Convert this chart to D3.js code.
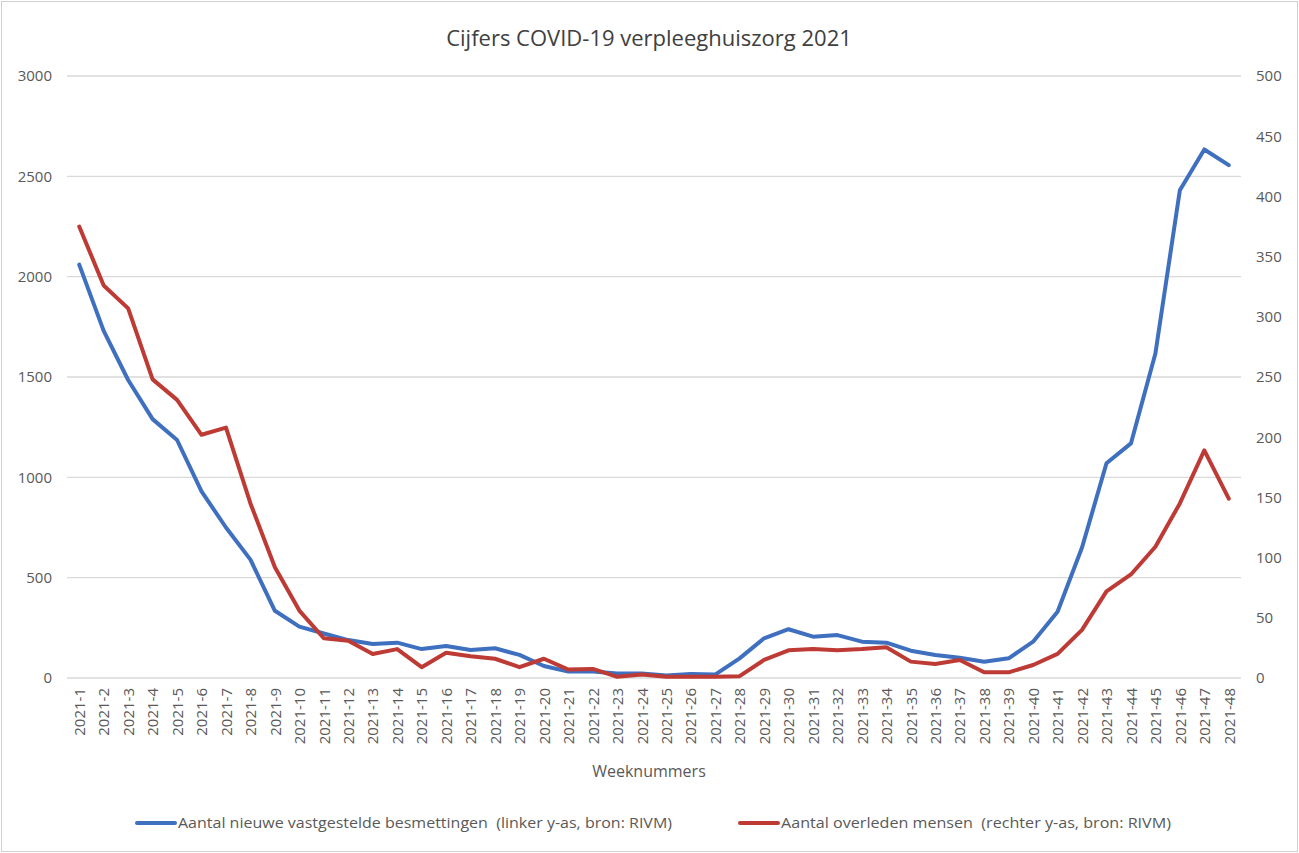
<!DOCTYPE html>
<html><head><meta charset="utf-8">
<script src="https://cdn.jsdelivr.net/npm/d3@7"></script>
<style>body{margin:0;background:#fff}svg{display:block}text{font-family:"Open Sans","Segoe UI",sans-serif;white-space:pre}</style>
</head><body><svg id="c" width="1299" height="853"></svg>
<script>
const weeks = d3.range(1, 49).map(i => "2021-" + i);
const infections = [2060,1730,1485,1290,1186,930,750,590,335,256,222,189,169,176,144,159,140,148,115,60,32,32,23,23,12,20,17,98,198,243,206,214,181,176,136,115,101,81,98,181,330,650,1070,1169,1617,2431,2634,2556];
const deaths = [375,326,307,248,231,202,208,145,92,56,33,31,20,24,9,21,18,16,9,16,7,7.5,1,3,1,1,1,1.5,15,23,24,23,24,25.5,13.6,11.6,15,4.7,4.7,10.8,20,40,72,86,109,145,189,149];
const leftTicks = [0,500,1000,1500,2000,2500,3000];
const rightTicks = [0,50,100,150,200,250,300,350,400,450,500];
const title = "Cijfers COVID-19 verpleeghuiszorg 2021";
const xTitle = "Weeknummers";
const legendLabels = ["Aantal nieuwe vastgestelde besmettingen  (linker y-as, bron: RIVM)", "Aantal overleden mensen  (rechter y-as, bron: RIVM)"];
const colors = ["#3f6fbf", "#bd3a35"];

const svg = d3.select("#c");
svg.append("rect").attr("x",1.5).attr("y",1.5).attr("width",1296).attr("height",850).attr("fill","#fff").attr("stroke","#d0d0d0");

const L = 67, R = 1241, T = 76, B = 678;
const x = d3.scalePoint().domain(weeks).range([L, R]).padding(0.5);
const yL = d3.scaleLinear().domain([0, 3000]).range([B, T]);
const yR = d3.scaleLinear().domain([0, 500]).range([B, T]);

svg.append("g").selectAll("line").data(leftTicks).join("line")
  .attr("x1", L).attr("x2", R).attr("y1", d => yL(d)).attr("y2", d => yL(d))
  .attr("stroke", "#d9d9d9").attr("stroke-width", 1.3);

const gl = svg.append("g").attr("transform", `translate(${L},0)`)
  .call(d3.axisLeft(yL).tickValues(leftTicks).tickFormat(d3.format("d")).tickSize(0).tickPadding(15));
gl.select(".domain").remove();
gl.selectAll("text").attr("font-size", 15).attr("fill", "#595959");

const gr = svg.append("g").attr("transform", `translate(${R},0)`)
  .call(d3.axisRight(yR).tickValues(rightTicks).tickFormat(d3.format("d")).tickSize(0).tickPadding(15));
gr.select(".domain").remove();
gr.selectAll("text").attr("font-size", 15).attr("fill", "#595959");

const gx = svg.append("g").attr("transform", `translate(0,${B})`)
  .call(d3.axisBottom(x).tickSize(0).tickPadding(0));
gx.select(".domain").remove();
gx.selectAll("text")
  .attr("font-size", 15).attr("fill", "#595959")
  .attr("text-anchor", "end")
  .attr("dy", "0.35em")
  .attr("transform", "translate(0,10) rotate(-90)")
  .attr("x", 0).attr("y", 0);

const lineL = d3.line().x((d, i) => x(weeks[i])).y(d => yL(d));
const lineR = d3.line().x((d, i) => x(weeks[i])).y(d => yR(d));
svg.append("path").datum(infections).attr("d", lineL).attr("fill", "none")
  .attr("stroke", colors[0]).attr("stroke-width", 4).attr("stroke-linejoin", "round").attr("stroke-linecap", "round");
svg.append("path").datum(deaths).attr("d", lineR).attr("fill", "none")
  .attr("stroke", colors[1]).attr("stroke-width", 4).attr("stroke-linejoin", "round").attr("stroke-linecap", "round");

svg.append("text").attr("x", 649).attr("y", 46).attr("text-anchor", "middle")
  .attr("font-size", 22).attr("fill", "#404040").text(title);
svg.append("text").attr("x", 649).attr("y", 777).attr("text-anchor", "middle")
  .attr("font-size", 16).attr("fill", "#595959").text(xTitle);

const legX = [137, 740];
const leg = svg.append("g").selectAll("g").data(legendLabels).join("g")
  .attr("transform", (d, i) => `translate(${legX[i]},823)`);
leg.append("line").attr("x1", 0).attr("x2", 38).attr("y1", 0).attr("y2", 0)
  .attr("stroke", (d, i) => colors[i]).attr("stroke-width", 4).attr("stroke-linecap", "round");
leg.append("text").attr("x", 41).attr("y", 0).attr("dy", "0.35em")
  .attr("font-size", 14).attr("fill", "#595959").text(d => d)
  .attr("textLength", (d, i) => i === 0 ? 494 : 390).attr("lengthAdjust", "spacingAndGlyphs");
</script></body></html>
